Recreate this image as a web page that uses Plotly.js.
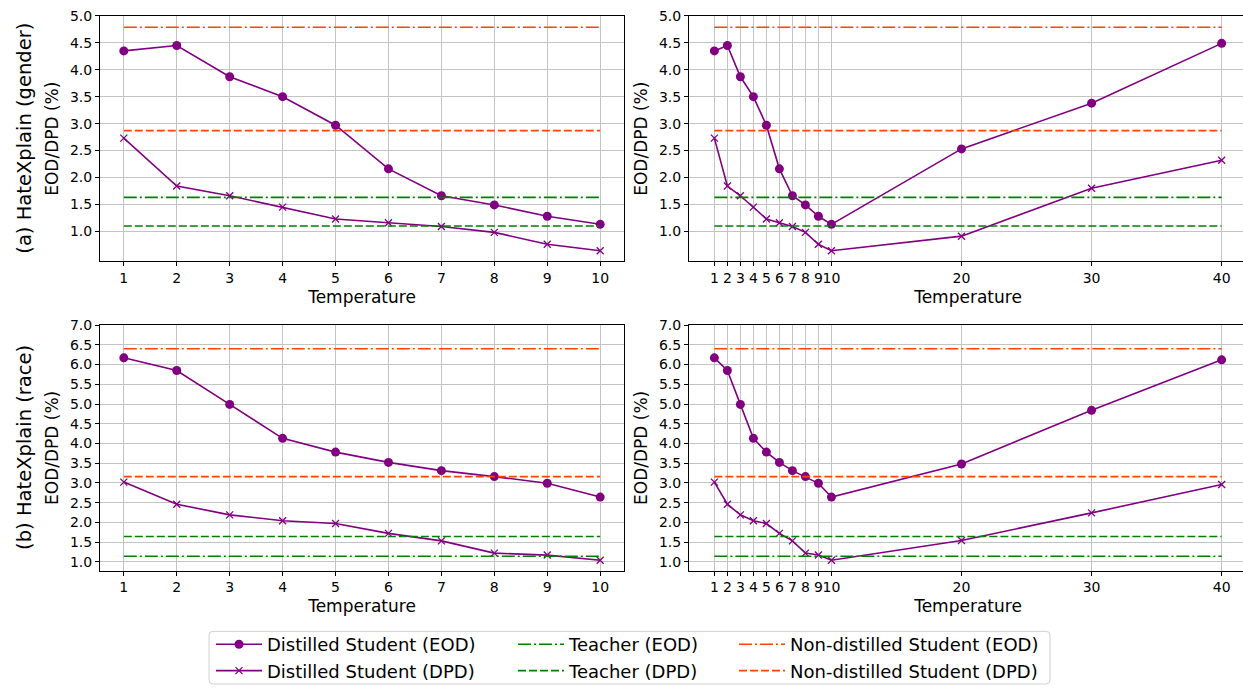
<!DOCTYPE html>
<html>
<head>
<meta charset="utf-8">
<script src="https://cdn.plot.ly/plotly-3.0.1.min.js"></script>
<style>
html,body{margin:0;padding:0;background:#fff;overflow:hidden;}
#chart{width:1247px;height:689px;}
</style>
</head>
<body>
<div id="chart"></div>
<script>
// ---- data ----
const temperatures = [1, 2, 3, 4, 5, 6, 7, 8, 9, 10, 20, 30, 40];
const tickLabels = ["1","2","3","4","5","6","7","8","9","10","20","30","40"];

const genderEOD = [4.35, 4.45, 3.87, 3.50, 2.97, 2.16, 1.66, 1.49, 1.28, 1.13, 2.53, 3.38, 4.49];
const genderDPD = [2.73, 1.84, 1.66, 1.45, 1.23, 1.16, 1.09, 0.98, 0.76, 0.64, 0.91, 1.80, 2.32];
const genderTeacherEOD = 1.63;
const genderTeacherDPD = 1.10;
const genderNonDistEOD = 4.79;
const genderNonDistDPD = 2.87;

const raceEOD = [6.17, 5.85, 4.99, 4.13, 3.78, 3.52, 3.31, 3.16, 2.99, 2.64, 3.48, 4.84, 6.12];
const raceDPD = [3.02, 2.46, 2.19, 2.04, 1.97, 1.72, 1.53, 1.22, 1.17, 1.04, 1.54, 2.24, 2.96];
const raceTeacherEOD = 1.14;
const raceTeacherDPD = 1.64;
const raceNonDistEOD = 6.40;
const raceNonDistDPD = 3.16;

const rowLabels = ["(a) HateXplain (gender)", "(b) HateXplain (race)"];
const seriesNames = ["Distilled Student (EOD)", "Distilled Student (DPD)", "Teacher (EOD)",
                     "Teacher (DPD)", "Non-distilled Student (EOD)", "Non-distilled Student (DPD)"];

// ---- styling ----
const FONT = "DejaVu Sans, sans-serif";
const PURPLE = "#800080", GREEN = "#008000", ORANGE = "#ff4500";
const DASHDOT = "13px,3px,2px,3px";
const DASHED = "8px,3px";
const W = 1247, H = 689;

const traces = [];
function addPanel(xa, ya, n, eod, dpd, tEOD, tDPD, nEOD, nDPD, showLeg) {
  const xs = temperatures.slice(0, n);
  const xEnds = [temperatures[0], temperatures[n - 1]];
  const common = {type: "scatter", xaxis: xa, yaxis: ya, hoverinfo: "skip"};
  traces.push(Object.assign({}, common, {x: xs, y: eod.slice(0, n), mode: "lines+markers",
    name: seriesNames[0], legend: "legend", showlegend: showLeg,
    line: {color: PURPLE, width: 1.6}, marker: {symbol: "circle", size: 9, color: PURPLE}}));
  traces.push(Object.assign({}, common, {x: xs, y: dpd.slice(0, n), mode: "lines+markers",
    name: seriesNames[1], legend: "legend", showlegend: showLeg,
    line: {color: PURPLE, width: 1.6},
    marker: {symbol: "x-thin-open", size: 7, color: PURPLE, line: {color: PURPLE, width: 1.3}}}));
  traces.push(Object.assign({}, common, {x: xEnds, y: [tEOD, tEOD], mode: "lines",
    name: seriesNames[2], legend: "legend2", showlegend: showLeg,
    line: {color: GREEN, width: 1.6, dash: DASHDOT}}));
  traces.push(Object.assign({}, common, {x: xEnds, y: [tDPD, tDPD], mode: "lines",
    name: seriesNames[3], legend: "legend2", showlegend: showLeg,
    line: {color: GREEN, width: 1.6, dash: DASHED}}));
  traces.push(Object.assign({}, common, {x: xEnds, y: [nEOD, nEOD], mode: "lines",
    name: seriesNames[4], legend: "legend3", showlegend: showLeg,
    line: {color: ORANGE, width: 1.6, dash: DASHDOT}}));
  traces.push(Object.assign({}, common, {x: xEnds, y: [nDPD, nDPD], mode: "lines",
    name: seriesNames[5], legend: "legend3", showlegend: showLeg,
    line: {color: ORANGE, width: 1.6, dash: DASHED}}));
}
addPanel("x", "y", 10, genderEOD, genderDPD, genderTeacherEOD, genderTeacherDPD, genderNonDistEOD, genderNonDistDPD, true);
addPanel("x2", "y2", 13, genderEOD, genderDPD, genderTeacherEOD, genderTeacherDPD, genderNonDistEOD, genderNonDistDPD, false);
addPanel("x3", "y3", 10, raceEOD, raceDPD, raceTeacherEOD, raceTeacherDPD, raceNonDistEOD, raceNonDistDPD, false);
addPanel("x4", "y4", 13, raceEOD, raceDPD, raceTeacherEOD, raceTeacherDPD, raceNonDistEOD, raceNonDistDPD, false);

// pixel boxes -> paper domains
const px = v => v / W, py = v => 1 - v / H;
const colL = [px(100), px(624)], colR = [px(689), px(1247)];
const rowT = [py(263), py(16)], rowB = [py(574), py(327)];

function xAxis(domain, anchor, range, n) {
  return {domain: domain, anchor: anchor, range: range,
    tickmode: "array", tickvals: temperatures.slice(0, n), ticktext: tickLabels.slice(0, n),
    tickangle: 0, ticks: "outside", ticklen: 4, tickwidth: 1, tickcolor: "#000",
    showline: true, mirror: true, linecolor: "#000", linewidth: 1,
    showgrid: true, gridcolor: "#c4c4c4", gridwidth: 1, zeroline: false,
    tickfont: {family: FONT, size: 14, color: "#000"},
    title: {text: "Temperature", font: {family: FONT, size: 17, color: "#000"}, standoff: 5},
    automargin: false, fixedrange: true};
}
function yAxis(domain, anchor, range, top) {
  const vals = [];
  for (let v = 1; v <= top + 1e-9; v += 0.5) vals.push(v);
  return {domain: domain, anchor: anchor, range: range,
    tickmode: "array", tickvals: vals, ticktext: vals.map(v => v.toFixed(1)),
    ticks: "outside", ticklen: 4, tickwidth: 1, tickcolor: "#000",
    showline: true, mirror: true, linecolor: "#000", linewidth: 1,
    showgrid: true, gridcolor: "#c4c4c4", gridwidth: 1, zeroline: false,
    tickfont: {family: FONT, size: 14, color: "#000"},
    title: {text: "EOD/DPD (%)", font: {family: FONT, size: 17, color: "#000"}, standoff: 6},
    automargin: false, fixedrange: true};
}

const legendBase = {orientation: "v", xanchor: "left", yanchor: "top", y: py(630),
  bgcolor: "rgba(0,0,0,0)", borderwidth: 0, itemwidth: 46,
  font: {family: FONT, size: 18, color: "#000"}, tracegroupgap: 0, itemclick: false, itemdoubleclick: false};

const layout = {
  width: W, height: H,
  margin: {l: 0, r: 0, t: 0, b: 0},
  paper_bgcolor: "#fff", plot_bgcolor: "#fff",
  font: {family: FONT, color: "#000"},
  showlegend: true,
  xaxis: xAxis(colL, "y", [0.55, 10.45], 10),
  yaxis: yAxis(rowT, "x", [0.44, 5.0], 5),
  xaxis2: xAxis(colR, "y2", [-0.95, 41.95], 13),
  yaxis2: yAxis(rowT, "x2", [0.44, 5.0], 5),
  xaxis3: xAxis(colL, "y3", [0.55, 10.45], 10),
  yaxis3: yAxis(rowB, "x3", [0.775, 7.0], 7),
  xaxis4: xAxis(colR, "y4", [-0.95, 41.95], 13),
  yaxis4: yAxis(rowB, "x4", [0.775, 7.0], 7),
  legend: Object.assign({}, legendBase, {x: px(211)}),
  legend2: Object.assign({}, legendBase, {x: px(513)}),
  legend3: Object.assign({}, legendBase, {x: px(734)}),
  annotations: [
    {text: rowLabels[0], xref: "paper", yref: "paper", x: px(25), y: (rowT[0] + rowT[1]) / 2,
     textangle: -90, showarrow: false, xanchor: "center", yanchor: "middle",
     font: {family: FONT, size: 19.5, color: "#000"}},
    {text: rowLabels[1], xref: "paper", yref: "paper", x: px(25), y: (rowB[0] + rowB[1]) / 2,
     textangle: -90, showarrow: false, xanchor: "center", yanchor: "middle",
     font: {family: FONT, size: 19.5, color: "#000"}}
  ],
  shapes: [
    {type: "path", xref: "paper", yref: "paper", layer: "below",
     path: (function () {
       const x0 = px(209), x1 = px(1050), y0 = py(635), y1 = py(688);
       const rx = px(4), ry = 4 / H;
       return `M ${x0 + rx} ${y0} L ${x1 - rx} ${y0} Q ${x1} ${y0} ${x1} ${y0 - ry} L ${x1} ${y1 + ry} Q ${x1} ${y1} ${x1 - rx} ${y1} L ${x0 + rx} ${y1} Q ${x0} ${y1} ${x0} ${y1 + ry} L ${x0} ${y0 - ry} Q ${x0} ${y0} ${x0 + rx} ${y0} Z`;
     })(),
     line: {color: "#d0d0d0", width: 1}, fillcolor: "rgba(255,255,255,0.8)"}
  ]
};

Plotly.newPlot("chart", traces, layout, {displayModeBar: false, staticPlot: true});
</script>
</body>
</html>
